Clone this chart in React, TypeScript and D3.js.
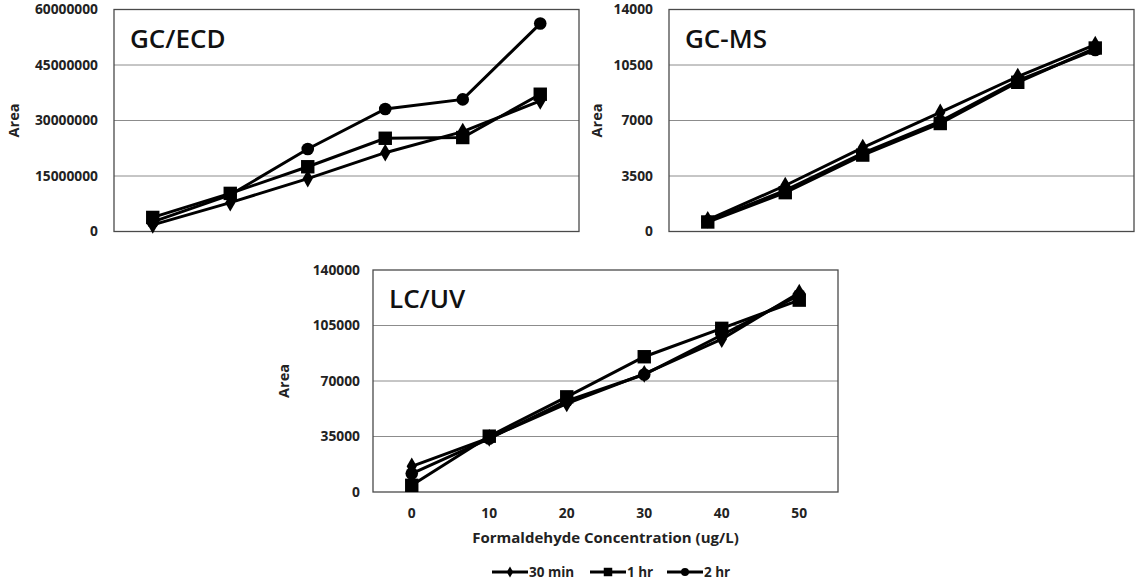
import * as d3 from 'd3'

const concentrations = ['0', '10', '20', '30', '40', '50']
const seriesNames = ['30 min', '1 hr', '2 hr']

// GC/ECD
const ecd30min = [1800000, 7800000, 14300000, 21300000, 27000000, 35300000]
const ecd1hr = [3800000, 10300000, 17500000, 25200000, 25400000, 37100000]
const ecd2hr = [2600000, 9900000, 22300000, 33100000, 35700000, 56200000]
const ecdTicks = [0, 15000000, 30000000, 45000000, 60000000]

// GC-MS
const ms30min = [740, 2900, 5290, 7510, 9770, 11780]
const ms1hr = [600, 2450, 4820, 6810, 9410, 11570]
const ms2hr = [650, 2600, 4950, 6950, 9520, 11450]
const msTicks = [0, 3500, 7000, 10500, 14000]

// LC/UV
const uv30min = [16200, 34100, 55800, 74500, 96400, 125700]
const uv1hr = [4200, 35200, 60000, 85300, 103200, 121000]
const uv2hr = [11600, 33700, 57500, 74100, 99000, 124200]
const uvTicks = [0, 35000, 70000, 105000, 140000]

const FONT = '"Open Sans", sans-serif'
const markers = [d3.symbolDiamond, d3.symbolSquare, d3.symbolCircle]
const markerSize = [90, 180, 125]

type PanelProps = {
  title: string
  x: number
  y: number
  series: number[][]
  ticks: number[]
  showX?: boolean
  labelGap: number
  areaX: number
}

function Panel({ title, x, y, series, ticks, showX, labelGap, areaX }: PanelProps) {
  const w = 465
  const h = 222
  const xs = d3.scalePoint<string>().domain(concentrations).range([0, w]).padding(0.5)
  const ys = d3.scaleLinear().domain([0, ticks[ticks.length - 1]]).range([h, 0])
  const line = d3.line<number>()
    .x((_, i) => xs(concentrations[i]) as number)
    .y(d => ys(d))

  return (
    <g transform={`translate(${x},${y})`}>
      {ticks.slice(1, -1).map(t => (
        <line key={t} x1={0} x2={w} y1={ys(t)} y2={ys(t)} stroke="#8c8c8c" strokeWidth={1} />
      ))}
      <rect x={0} y={0} width={w} height={h} fill="none" stroke="#4a4a4a" strokeWidth={1.3} />
      {ticks.map(t => (
        <text key={t} x={-labelGap} y={ys(t)} dy="0.35em" textAnchor="end"
          fontFamily={FONT} fontWeight={700} fontSize={13.8} fill="#222">{t}</text>
      ))}
      <text transform={`translate(${areaX},${h / 2}) rotate(-90)`} textAnchor="middle" dy="0.35em"
        fontFamily={FONT} fontWeight={700} fontSize={14.5} fill="#222">Area</text>
      <text x={16} y={38} fontFamily={FONT} fontWeight={600} fontSize={26} fill="#111">{title}</text>
      {series.map((s, si) => (
        <g key={si}>
          <path d={line(s) ?? ''} fill="none" stroke="#000" strokeWidth={3} />
          {s.map((v, i) => (
            <path key={i} transform={`translate(${xs(concentrations[i])},${ys(v)})`}
              d={d3.symbol(markers[si], markerSize[si])() ?? ''} fill="#000" />
          ))}
        </g>
      ))}
      {showX && concentrations.map(c => (
        <text key={c} x={xs(c)} y={h + 21} dy="0.35em" textAnchor="middle"
          fontFamily={FONT} fontWeight={700} fontSize={13.8} fill="#222">{c}</text>
      ))}
      {showX && (
        <text x={w / 2} y={h + 46} dy="0.35em" textAnchor="middle"
          fontFamily={FONT} fontWeight={700} fontSize={15} fill="#222">Formaldehyde Concentration (ug/L)</text>
      )}
    </g>
  )
}

function Legend({ x, y }: { x: number; y: number }) {
  const offsets = [0, 98, 175]
  return (
    <g transform={`translate(${x},${y})`}>
      {seriesNames.map((n, i) => (
        <g key={n} transform={`translate(${offsets[i]},0)`}>
          <line x1={0} x2={36} y1={0} y2={0} stroke="#000" strokeWidth={3} />
          <path transform="translate(18,0)" d={d3.symbol(markers[i], markerSize[i] * 0.4)() ?? ''} fill="#000" />
          <text x={37} y={0} dy="0.35em" fontFamily={FONT} fontWeight={700} fontSize={13.5} fill="#222">{n}</text>
        </g>
      ))}
    </g>
  )
}

export default function App() {
  return (
    <svg width={1137} height={585} style={{ position: 'absolute', left: 0, top: 0, background: '#fff' }}>
      <rect width={1137} height={585} fill="#fff" />
      <Panel title="GC/ECD" x={114} y={9.5} series={[ecd30min, ecd1hr, ecd2hr]} ticks={ecdTicks}
        labelGap={16} areaX={-100} />
      <Panel title="GC-MS" x={669} y={9.5} series={[ms30min, ms1hr, ms2hr]} ticks={msTicks}
        labelGap={16} areaX={-72} />
      <Panel title="LC/UV" x={373} y={270} series={[uv30min, uv1hr, uv2hr]} ticks={uvTicks}
        labelGap={13} areaX={-89} showX />
      <Legend x={492} y={572} />
    </svg>
  )
}
